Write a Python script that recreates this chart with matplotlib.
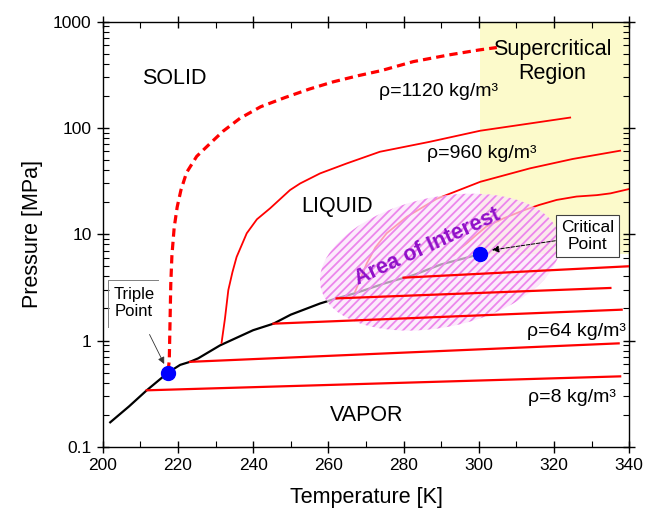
import numpy as np
import matplotlib
matplotlib.use('Agg')
import matplotlib.pyplot as plt
from matplotlib.patches import Ellipse
from matplotlib.transforms import ScaledTranslation
from matplotlib.ticker import FixedLocator, LogLocator, FuncFormatter

plt.rcParams['font.family'] = ['Liberation Sans', 'DejaVu Sans']
plt.rcParams['hatch.linewidth'] = 1.3

# saturation (vapor-liquid) curve, black
sat_T = [202, 207, 211.7, 217.4, 220.6, 223.2, 225.4, 231.2, 240, 245.4, 250, 257.8,
         262.2, 267.5, 275, 282.6, 290, 300.4]
sat_P = [0.17, 0.24, 0.34, 0.50, 0.59, 0.63, 0.68, 0.90, 1.25, 1.44, 1.75, 2.23,
         2.49, 2.81, 3.45, 4.12, 5.2, 6.5]

# rho = 1120 kg/m3 (dashed)
melt_T = [217.4, 217.7, 218.1, 218.4, 219.0, 219.8, 220.8, 222.3, 225.0, 228.5, 232.0, 236.5,
          242.0, 248.5, 255.0, 261.3, 268.0, 274.0, 282.6, 292.0, 300.0, 304.8]
melt_P = [0.52, 0.65, 3.4, 6.3, 11.5, 18.0, 26.0, 38.0, 54.0, 71.0, 93.0, 123.0,
          158.0, 193.0, 232.0, 271.0, 310.0, 345.0, 420.0, 485.0, 540.0, 570.0]

# liquid isochores
liq1_T = [231.6, 232.5, 233.4, 234.5, 235.6, 238.3, 241.0, 244.5, 249.8, 252.5, 257.8,
          264.9, 273.7, 287.0, 300.4, 313.6, 324.3]
liq1_P = [0.95, 1.6, 2.98, 4.4, 6.1, 10.2, 13.8, 17.5, 26.0, 30.0, 37.3,
          46.3, 59.6, 74.0, 94.0, 110.0, 125.0]
liq2_T = [267.1, 268.5, 270.2, 272.5, 275.5, 280.9, 288.8, 300.4, 313.6, 325.0, 337.6]
liq2_P = [2.87, 3.8, 5.3, 7.5, 10.2, 14.6, 21.5, 31.1, 41.6, 51.0, 61.0]
liq3_T = [293.3, 295.0, 296.8, 299.0, 302.0, 306.6, 312.0, 316.0, 320.7, 326.0, 331.4, 335.0, 340.0]
liq3_P = [6.35, 7.3, 8.2, 9.6, 11.8, 14.1, 16.8, 18.8, 21.0, 22.6, 23.3, 24.2, 26.6]

# vapor isochores (start on the saturation curve)
vap_T0 = [280.0, 262.2, 245.4, 223.2, 211.7]
vap_P0 = [3.9, 2.49, 1.44, 0.63, 0.34]
vap_T1 = [340.3, 335.0, 338.0, 337.2, 337.6]
vap_P1 = [5.0, 3.12, 1.95, 0.94, 0.46]

triple = (217.4, 0.50)
critical = (300.4, 6.5)

fig = plt.figure(figsize=(6.46, 5.13), dpi=100)
ax = fig.add_axes([0.159, 0.129, 0.815, 0.829])
ax.set_yscale('log')
ax.set_xlim(200, 340)
ax.set_ylim(0.1, 1000)

# supercritical region
ax.fill_between([critical[0], 340], critical[1], 1000, color='#FCFACB', lw=0, zorder=0)

ax.plot(sat_T, sat_P, color='black', lw=1.6, zorder=2)
ax.plot(melt_T, melt_P, color='red', lw=2.3, ls=(0, (2.6, 1.6)), zorder=2)
ax.plot(liq1_T, liq1_P, color='red', lw=1.3, zorder=2)
ax.plot(liq2_T, liq2_P, color='red', lw=1.3, zorder=2)
ax.plot(liq3_T, liq3_P, color='red', lw=1.3, zorder=2)

# area of interest (ellipse sized in inches, centred on a data point)
off = ScaledTranslation(289.7, 5.46, ax.transData)
ax.add_patch(Ellipse((0, 0), 2.44, 1.30, angle=12, transform=fig.dpi_scale_trans + off,
                     facecolor='#FBE3FB', edgecolor='none', alpha=0.7, zorder=3))
ax.add_patch(Ellipse((0, 0), 2.44, 1.30, angle=12, transform=fig.dpi_scale_trans + off,
                     facecolor='none', edgecolor='#EC86EC', lw=0, hatch='////', zorder=3))

for t0, p0, t1, p1 in zip(vap_T0, vap_P0, vap_T1, vap_P1):
    ax.plot([t0, t1], [p0, p1], color='red', lw=1.6, zorder=4)

ax.plot(*triple, 'o', color='blue', ms=10, zorder=6)
ax.plot(*critical, 'o', color='blue', ms=10, zorder=6)

ax.text(286.3, 7.5, 'Area of Interest', color='#9010C8', fontsize=15.5, fontweight='bold',
        rotation=24.7, ha='center', va='center', zorder=5)

ax.text(219, 294, 'SOLID', fontsize=15.5, ha='center', va='center')
ax.text(262.4, 18.1, 'LIQUID', fontsize=15.5, ha='center', va='center')
ax.text(270.2, 0.195, 'VAPOR', fontsize=15.5, ha='center', va='center')
ax.text(319.6, 420, 'Supercritical\nRegion', fontsize=15.5, ha='center', va='center',
        linespacing=1.15)
ax.text(289.3, 222, 'ρ=1120 kg/m³', fontsize=14, ha='center', va='center')
ax.text(300.8, 58, 'ρ=960 kg/m³', fontsize=14, ha='center', va='center')
ax.text(326.0, 1.22, 'ρ=64 kg/m³', fontsize=14, ha='center', va='center')
ax.text(324.9, 0.29, 'ρ=8 kg/m³', fontsize=14, ha='center', va='center')

# triple point label: open frame (top and left edges only)
ax.annotate('Triple\nPoint', xy=(217.0, 0.54), xytext=(208.3, 2.25), fontsize=12,
            ha='center', va='center', zorder=7,
            arrowprops=dict(arrowstyle='-|>', color='0.2', lw=0.6, mutation_scale=10,
                            shrinkA=10, shrinkB=4))
ax.plot([201.4, 201.4, 214.7], [1.35, 3.7, 3.7], color='0.5', lw=0.7, zorder=7)

ax.annotate('Critical\nPoint', xy=(303.5, 7.1), xytext=(328.9, 9.6), fontsize=12.5,
            ha='center', va='center', zorder=7,
            bbox=dict(boxstyle='square,pad=0.3', fc='white', ec='0.25', lw=0.8),
            arrowprops=dict(arrowstyle='-|>', color='black', lw=0.7, ls='--',
                            mutation_scale=10, shrinkA=0, shrinkB=0))

ax.xaxis.set_major_locator(FixedLocator(np.arange(200, 341, 20)))
ax.xaxis.set_minor_locator(FixedLocator(np.arange(210, 340, 20)))
ax.yaxis.set_major_locator(LogLocator(base=10, numticks=10))
ax.yaxis.set_minor_locator(LogLocator(base=10, subs=np.arange(2, 10), numticks=20))
ax.yaxis.set_major_formatter(FuncFormatter(lambda v, pos: '%g' % v))
ax.tick_params(which='major', direction='inout', length=9, width=1.0,
               top=True, right=True, labelsize=12.5)
ax.tick_params(which='minor', direction='in', length=4, width=0.8, top=True, right=True)
for s in ax.spines.values():
    s.set_linewidth(1.0)

ax.set_xlabel('Temperature [K]', fontsize=15.5, labelpad=10)
ax.set_ylabel('Pressure [MPa]', fontsize=15.5, labelpad=7)

fig.savefig('out.png', dpi=100)
